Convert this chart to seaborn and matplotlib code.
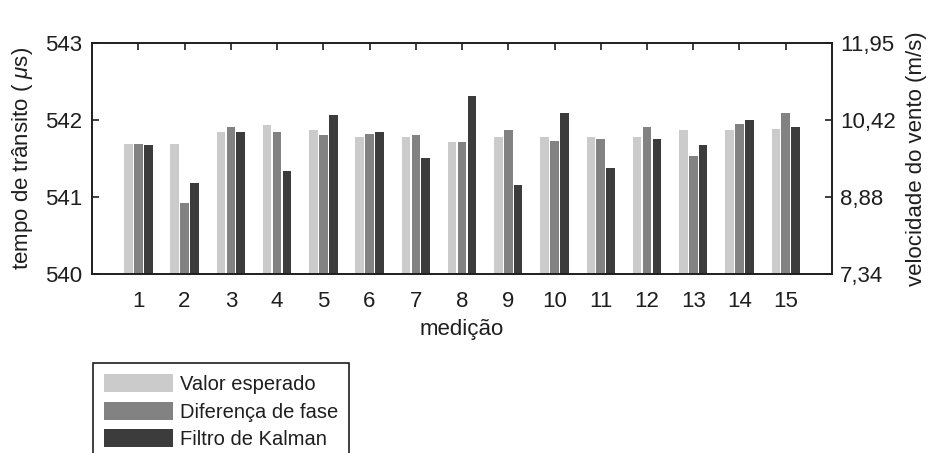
import matplotlib
matplotlib.use("Agg")
import matplotlib.pyplot as plt
import seaborn as sns
import pandas as pd
from matplotlib.patches import Patch

medicoes = list(range(1, 16))
valor_esperado = [541.69, 541.69, 541.84, 541.93, 541.87, 541.78, 541.78, 541.71,
                  541.78, 541.78, 541.78, 541.78, 541.87, 541.87, 541.89]
diferenca_fase = [541.69, 540.92, 541.91, 541.84, 541.80, 541.82, 541.80, 541.71,
                  541.87, 541.73, 541.75, 541.91, 541.53, 541.95, 542.09]
filtro_kalman = [541.67, 541.18, 541.84, 541.34, 542.06, 541.84, 541.51, 542.31,
                 541.16, 542.09, 541.38, 541.75, 541.67, 542.00, 541.91]
series_names = ["Valor esperado", "Diferença de fase", "Filtro de Kalman"]
colors = ["#cbcbcb", "#828282", "#3c3c3c"]
left_ticks = [540, 541, 542, 543]
right_ticks = [7.34, 8.88, 10.42, 11.95]
right_labels = ["7,34", "8,88", "10,42", "11,95"]

rows = []
for name, vals in zip(series_names, [valor_esperado, diferenca_fase, filtro_kalman]):
    for m, v in zip(medicoes, vals):
        rows.append({"medição": m, "valor": v, "série": name})
df = pd.DataFrame(rows)

sns.set_style("white")
plt.rcParams["font.family"] = ["Liberation Sans", "DejaVu Sans"]
plt.rcParams["mathtext.fontset"] = "custom"
plt.rcParams["mathtext.it"] = "Liberation Sans:italic"
plt.rcParams["text.color"] = "#1e1e1e"

FS = 16
fig = plt.figure(figsize=(9.3, 4.53), dpi=100)
ax = fig.add_axes([0.099, 0.395, 0.7956, 0.51])

sns.barplot(data=df, x="medição", y="valor", hue="série", hue_order=series_names,
            palette=colors, native_scale=True, width=0.645, gap=0.14,
            ax=ax, legend=False, saturation=1, errorbar=None, linewidth=0)

ax.set_xlim(0, 16)
ax.set_ylim(540, 543)
ax.set_xticks(medicoes)
ax.set_xticklabels([str(m) for m in medicoes])
ax.set_yticks(left_ticks)
ax.set_yticklabels([str(t) for t in left_ticks])
ax.set_xlabel("medição", fontsize=FS, labelpad=5, color="#1e1e1e")
ax.set_ylabel("tempo de trânsito ( $\\mu$s)", fontsize=FS, labelpad=7, color="#1e1e1e")
ax.tick_params(axis="both", direction="in", labelsize=FS, length=5, width=1.2,
               top=True, bottom=False, colors="#1e1e1e")
ax.tick_params(axis="x", pad=12)
ax.tick_params(axis="y", pad=7)
for s in ax.spines.values():
    s.set_color("#1e1e1e")
    s.set_linewidth(1.2)

ax2 = ax.twinx()
ax2.set_ylim(7.34, 11.95)
ax2.set_yticks(right_ticks)
ax2.set_yticklabels(right_labels)
ax2.tick_params(axis="y", direction="in", labelsize=FS, length=5, width=1.2,
                colors="#1e1e1e", pad=6)
ax2.set_ylabel("velocidade do vento (m/s)", fontsize=FS, labelpad=7, color="#1e1e1e")
for s in ax2.spines.values():
    s.set_color("#1e1e1e")
    s.set_linewidth(1.2)

handles = [Patch(facecolor=c, edgecolor="none") for c in colors]
leg = fig.legend(handles, series_names, loc="upper left", bbox_to_anchor=(0.1, 0.1987),
                 fontsize=14.5, frameon=True, fancybox=False, framealpha=1,
                 edgecolor="#1e1e1e", handlelength=3.4, handleheight=1.0,
                 labelspacing=0.38, borderpad=0.55, borderaxespad=0,
                 handletextpad=0.35)
leg.get_frame().set_linewidth(1.2)

fig.savefig("out.png", dpi=100, facecolor="white")
